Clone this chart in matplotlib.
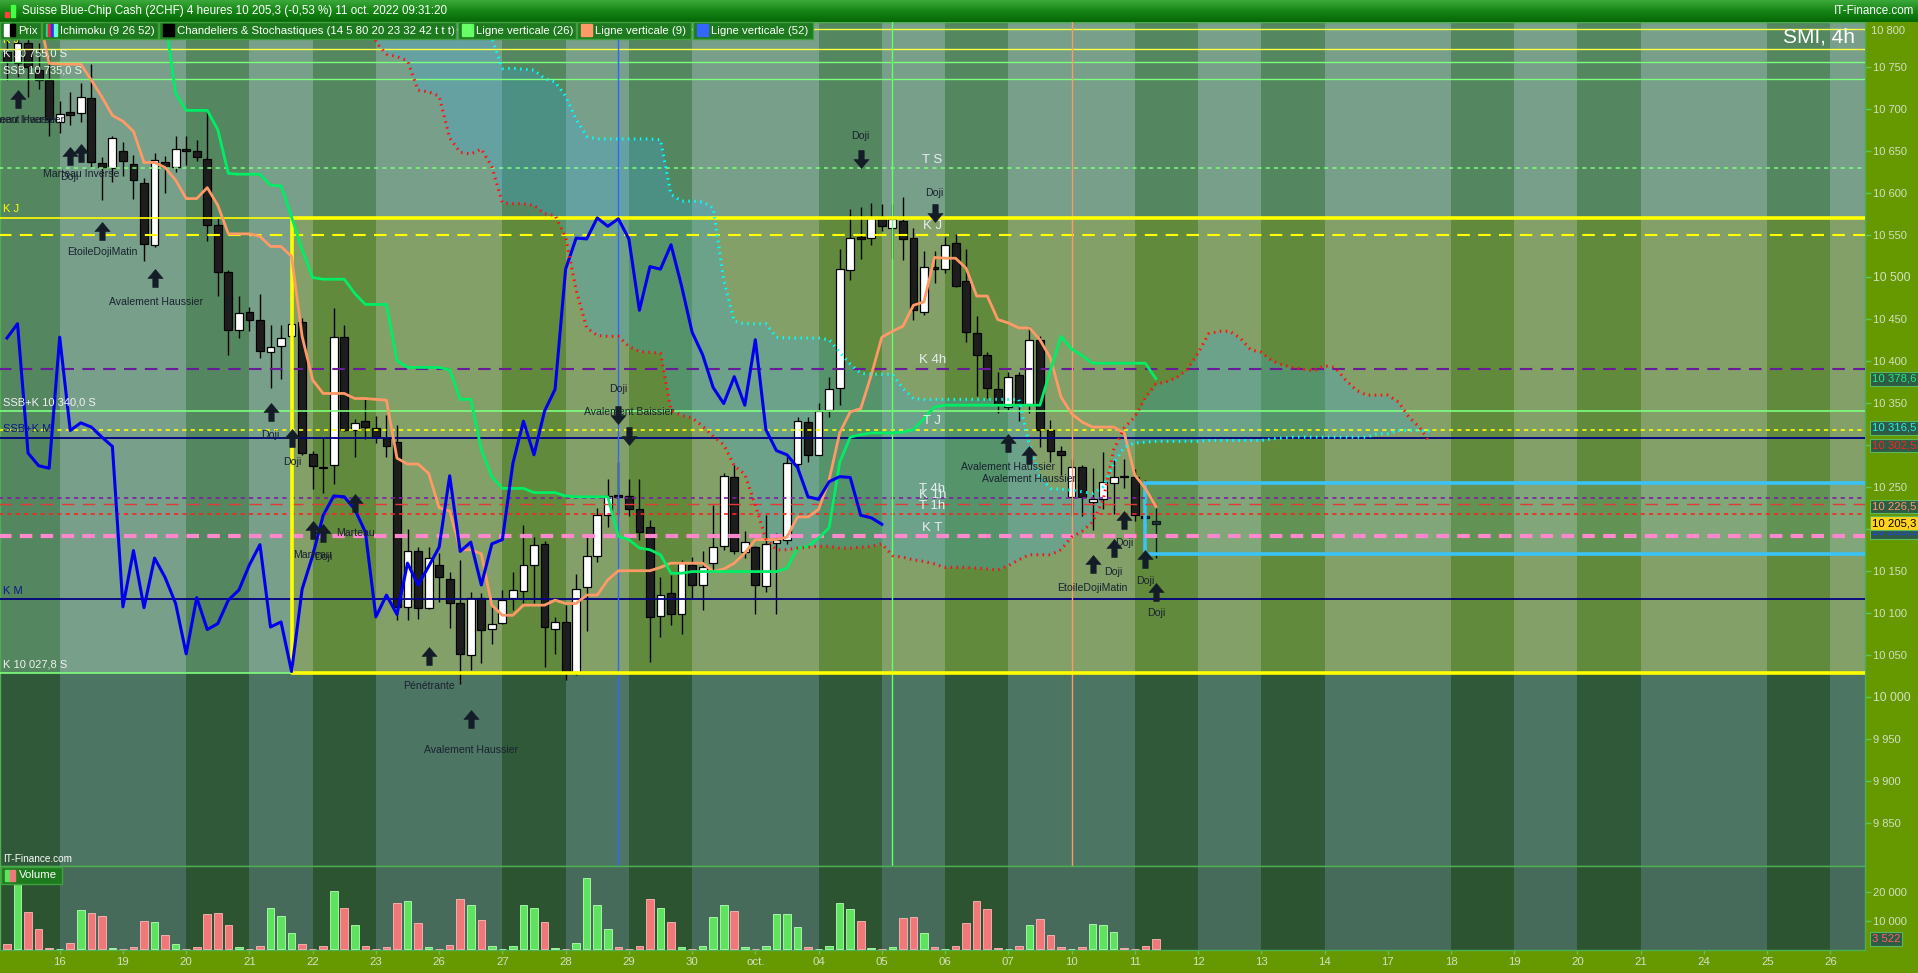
import numpy as np
import matplotlib
matplotlib.use("Agg")
import matplotlib.pyplot as plt
from matplotlib.patches import Rectangle
from matplotlib.path import Path
from matplotlib.colors import LinearSegmentedColormap

# ---------------- data (4h bars, index k = 0 .. 109) ----------------
opens = [10768, 10754, 10778, 10746, 10734, 10684, 10696, 10695, 10713, 10635,
         10629, 10650, 10634, 10611, 10538, 10637, 10631, 10652, 10650, 10640,
         10562, 10506, 10436, 10458, 10448, 10410, 10417, 10430, 10446, 10289,
         10274, 10276, 10428, 10317, 10328, 10320, 10308, 10303, 10107, 10173,
         10106, 10157, 10140, 10111, 10050, 10117, 10081, 10088, 10117, 10126,
         10157, 10182, 10081, 10089, 10030, 10131, 10168, 10216, 10240, 10239,
         10224, 10202, 10096, 10123, 10098, 10157, 10133, 10159, 10180, 10262,
         10172, 10178, 10132, 10183, 10187, 10277, 10327, 10288, 10341, 10367,
         10508, 10547, 10546, 10570, 10558, 10566, 10546, 10458, 10512, 10509,
         10540, 10495, 10433, 10407, 10366, 10345, 10383, 10348, 10425, 10317,
         10293, 10238, 10273, 10232, 10235, 10255, 10263, 10261, 10215, 10209]
highs = [10788, 10793, 10788, 10778, 10763, 10709, 10720, 10731, 10753, 10642,
         10667, 10660, 10645, 10618, 10647, 10644, 10667, 10667, 10663, 10696,
         10570, 10508, 10477, 10464, 10480, 10442, 10442, 10449, 10451, 10292,
         10308, 10463, 10442, 10331, 10355, 10334, 10335, 10324, 10200, 10178,
         10178, 10171, 10148, 10163, 10125, 10123, 10107, 10127, 10149, 10204,
         10190, 10185, 10095, 10109, 10146, 10190, 10225, 10259, 10279, 10259,
         10259, 10210, 10143, 10145, 10163, 10166, 10173, 10228, 10266, 10276,
         10197, 10180, 10216, 10195, 10285, 10333, 10333, 10350, 10381, 10533,
         10580, 10583, 10588, 10586, 10586, 10595, 10558, 10531, 10531, 10547,
         10551, 10533, 10453, 10410, 10387, 10387, 10386, 10441, 10429, 10329,
         10298, 10283, 10276, 10272, 10291, 10282, 10283, 10271, 10258, 10225]
lows = [10734, 10738, 10714, 10723, 10667, 10671, 10680, 10684, 10630, 10591,
        10613, 10620, 10593, 10519, 10535, 10600, 10625, 10633, 10638, 10542,
        10477, 10407, 10427, 10435, 10403, 10368, 10378, 10417, 10288, 10247,
        10243, 10253, 10316, 10285, 10307, 10302, 10285, 10091, 10091, 10093,
        10104, 10113, 10082, 10015, 10032, 10040, 10063, 10086, 10103, 10111,
        10111, 10035, 10051, 10020, 10026, 10078, 10160, 10202, 10218, 10215,
        10187, 10041, 10071, 10085, 10075, 10116, 10103, 10150, 10175, 10170,
        10165, 10098, 10125, 10098, 10182, 10268, 10280, 10288, 10333, 10347,
        10496, 10521, 10538, 10555, 10521, 10520, 10448, 10455, 10492, 10504,
        10488, 10422, 10358, 10356, 10338, 10341, 10328, 10338, 10297, 10280,
        10264, 10215, 10215, 10199, 10223, 10218, 10248, 10209, 10207, 10165]
closes = [10756, 10778, 10750, 10734, 10688, 10694, 10693, 10714, 10636, 10630,
          10665, 10638, 10615, 10539, 10639, 10631, 10652, 10650, 10642, 10562,
          10506, 10436, 10457, 10448, 10411, 10416, 10427, 10444, 10290, 10275,
          10272, 10428, 10317, 10326, 10321, 10309, 10298, 10107, 10174, 10106,
          10165, 10142, 10111, 10051, 10118, 10080, 10087, 10115, 10127, 10157,
          10181, 10083, 10089, 10030, 10128, 10168, 10216, 10239, 10238, 10223,
          10196, 10095, 10121, 10098, 10159, 10133, 10155, 10178, 10263, 10173,
          10184, 10133, 10182, 10187, 10278, 10328, 10288, 10340, 10366, 10509,
          10546, 10545, 10570, 10560, 10569, 10545, 10460, 10512, 10509, 10538,
          10489, 10434, 10407, 10368, 10349, 10381, 10347, 10425, 10318, 10293,
          10288, 10273, 10238, 10235, 10256, 10262, 10261, 10216, 10213, 10205.3]
volumes = [1600, 23000, 13000, 7100, 350, 0,
           1950, 13700, 12600, 11600, 350, 0,
           580, 9900, 9500, 5000, 1600, 0,
           600, 12300, 12600, 8500, 600, 0,
           900, 14400, 11600, 5700, 1600, 0,
           900, 20600, 14400, 8500, 900, 0,
           600, 16100, 17100, 9200, 600, 0,
           1250, 17800, 15400, 10200, 900, 0,
           900, 15700, 14400, 9500, 350, 0,
           2300, 25000, 15700, 7100, 600, 0,
           900, 17800, 14400, 9500, 600, 0,
           900, 11300, 15700, 13300, 600, 0,
           900, 12300, 12300, 7800, 600, 0,
           900, 16400, 14000, 9900, 350, 0,
           600, 10900, 11300, 5700, 600, 0,
           900, 9200, 17100, 14000, 350, 0,
           900, 8500, 10600, 5000, 600, 0,
           600, 8800, 8500, 6100, 350, 0,
           900, 3522]

# Ichimoku
tenkan = [10815, 10815, 10815, 10812, 10754, 10753, 10753, 10753, 10734, 10714,
          10692, 10685, 10673, 10636, 10636, 10630, 10615, 10593, 10593, 10606,
          10585, 10551, 10551, 10551, 10548, 10536, 10536, 10524, 10429, 10377,
          10361, 10361, 10361, 10355, 10355, 10354, 10353, 10284, 10277, 10277,
          10266, 10225, 10221, 10175, 10175, 10170, 10109, 10097, 10097, 10109,
          10109, 10109, 10115, 10111, 10111, 10121, 10121, 10139, 10150, 10150,
          10150, 10150, 10154, 10159, 10159, 10159, 10159, 10149, 10152, 10159,
          10171, 10187, 10187, 10187, 10190, 10214, 10214, 10223, 10258, 10314,
          10339, 10343, 10383, 10428, 10435, 10441, 10466, 10470, 10523, 10522,
          10522, 10510, 10477, 10477, 10449, 10445, 10439, 10439, 10425, 10403,
          10357, 10337, 10327, 10321, 10321, 10321, 10314, 10264, 10248, 10226.5]
kijun = ([10810] * 15
         + [10808, 10718, 10698, 10698, 10698, 10675, 10623, 10622, 10622, 10622,
            10609, 10608, 10571, 10532, 10499, 10497, 10497, 10497, 10480, 10467,
            10467, 10467, 10400, 10392, 10392, 10392, 10392, 10389, 10354, 10354,
            10294, 10262, 10248, 10248, 10248, 10243, 10243, 10243, 10239, 10238,
            10238, 10238, 10238, 10191, 10187, 10177, 10175, 10169, 10147, 10147]
         + [10149] * 9
         + [10153, 10177, 10179, 10189, 10201, 10279, 10309, 10312, 10314, 10314,
            10314, 10315, 10318, 10331, 10345]
         + [10347] * 10
         + [10389, 10429, 10414, 10406]
         + [10397] * 6
         + [10378.6])
cloud_start = 34
ssa = [10850, 10779, 10765, 10762, 10757, 10722, 10720, 10715, 10665, 10648,
       10646, 10652, 10631, 10588, 10587, 10587, 10585, 10575, 10573, 10547,
       10484, 10439, 10430, 10429, 10429, 10417, 10411, 10410, 10409, 10341,
       10335, 10332, 10322, 10310, 10300, 10275, 10265, 10228, 10188, 10175,
       10175, 10177, 10178, 10179, 10179, 10177, 10177, 10178, 10179, 10182,
       10168, 10166, 10163, 10161, 10158, 10154, 10154, 10154, 10153, 10152,
       10151, 10156, 10163, 10169, 10169, 10169, 10175, 10190, 10197, 10208,
       10234, 10294, 10320, 10333, 10356, 10372, 10375, 10380, 10390, 10409,
       10432, 10435, 10435, 10427, 10413, 10410, 10400, 10395, 10392, 10390,
       10388, 10394, 10392, 10377, 10365, 10359, 10359, 10359, 10351, 10333,
       10321, 10302.5]
ssb = ([10850] * 12
       + [10784, 10748, 10748, 10747, 10746, 10736, 10732, 10715,
          10687, 10667, 10664, 10664, 10664, 10664, 10664, 10664, 10663, 10598,
          10590, 10590, 10589, 10582, 10496, 10447, 10444, 10444, 10444, 10428,
          10427, 10427, 10427, 10427, 10425, 10410, 10396, 10385, 10384, 10384,
          10384, 10367, 10355]
       + [10354] * 10
       + [10300, 10262, 10248, 10247, 10246, 10244, 10242,
          10250, 10278, 10297, 10302, 10303]
       + [10304] * 5 + [10305] * 6 + [10307, 10308] + [10309] * 8
       + [10313, 10313, 10317, 10317, 10317, 10316.5])

# calendar
day_labels = ['15', '16', '19', '20', '21', '22', '23', '26', '27', '28', '29', '30',
              'oct.', '04', '05', '06', '07', '10', '11', '12', '13', '14', '17', '18',
              '19', '20', '21', '24', '25', '26']
day_names = ['Thu', 'Fri', 'Mon', 'Tue', 'Wed', 'Thu', 'Fri', 'Mon', 'Tue', 'Wed', 'Thu', 'Fri',
             'Mon', 'Tue', 'Wed', 'Thu', 'Fri', 'Mon', 'Tue', 'Wed', 'Thu', 'Fri', 'Mon', 'Tue',
             'Wed', 'Thu', 'Fri', 'Mon', 'Tue', 'Wed']

# support / resistance levels
level_values = [10795, 10771, 10755, 10735, 10629, 10570, 10550, 10390, 10340,
                10318, 10308, 10237, 10230, 10217, 10191, 10116, 10027.8]
level_left = ['', 'K J', 'K 10 755,0 S', 'SSB 10 735,0 S', '', 'K J', '', '',
              'SSB+K 10 340,0 S', '', 'SSB+K M', '', '', '', '', 'K M', 'K 10 027,8 S']
level_mid = ['', '', '', '', 'T S', '', 'K J', 'K 4h', '', 'T J', '', 'T 4h', 'K 1h',
             'T 1h', 'K T', '', '']
zone_low, zone_high, zone_bar = 10027.8, 10570, 27
box_low, box_high, box_bar = 10170, 10255, 108
vline_bars = [84, 101, 58]

# candlestick pattern marks
up_marks_k = [1, 6, 7, 9, 14, 25, 27, 29, 30, 33, 40, 44, 95, 97, 103, 105, 106, 108, 109]
up_marks_v = [10712, 10644, 10647, 10554, 10498, 10339, 10308, 10198, 10195, 10231,
              10048, 9973, 10302, 10288, 10158, 10177, 10210, 10164, 10125]
down_marks_k = [58, 59, 81, 88]
down_marks_v = [10335, 10310, 10640, 10576]
pattern_texts = [(1, 10687, 'Avalement Haussier'), (1, 10687, 'Marteau Inverse'),
                 (7, 10622, 'Marteau Inverse'), (5.9, 10619, 'Doji'),
                 (9, 10529, 'EtoileDojiMatin'), (14.1, 10470, 'Avalement Haussier'),
                 (25, 10311, 'Doji'), (27.1, 10279, 'Doji'),
                 (29, 10169, 'Marteau'), (30, 10166, 'Doji'), (33.1, 10195, 'Marteau'),
                 (40, 10013, 'Pénétrante'), (44, 9936, 'Avalement Haussier'),
                 (58, 10366, 'Doji'), (59, 10339, 'Avalement Baissier'),
                 (81, 10668, 'Doji'), (88, 10600, 'Doji'),
                 (95, 10274, 'Avalement Haussier'), (97, 10259, 'Avalement Haussier'),
                 (103, 10130, 'EtoileDojiMatin'), (105, 10149, 'Doji'), (106, 10183, 'Doji'),
                 (108, 10138, 'Doji'), (109, 10100, 'Doji')]

# ---------------- drawing ----------------
plt.rcParams['font.family'] = ['Liberation Sans', 'DejaVu Sans']
plt.rcParams['lines.scale_dashes'] = False

W, H = 1918, 973
fig = plt.figure(figsize=(W / 100, H / 100), dpi=100, facecolor='#669900')


def fx(x):
    return x / W


def fy(y):
    return 1 - y / H


def fmt(v, dec=1):
    s = f'{v:,.{dec}f}'.replace(',', ' ').replace('.', ',')
    return s


XL = (-0.664, 176.28)
YL = (9798.5, 10803.2)
VL = (-345, 29310)
GRID = '#4caf50'
TICKC = '#d3e0c4'

ax = fig.add_axes([0, fy(866), fx(1865), fy(22) - fy(866)])
axv = fig.add_axes([0, fy(950), fx(1865), fy(866) - fy(950)], sharex=ax)
ax.set_xlim(*XL)
ax.set_ylim(*YL)
axv.set_ylim(*VL)

# day bands
band = {'upper': ('#779f89', '#548660'), 'olive': ('#82a068', '#618a3d'),
        'lower': ('#4d7563', '#30593a'), 'vol': ('#476b5b', '#2c5431')}
for i, name in enumerate(day_names):
    s = -1 + 6 * i
    e = s + 6
    j = 1 if name in ('Tue', 'Thu') else 0
    ax.add_patch(Rectangle((s, zone_low), 6, YL[1] - zone_low + 20, color=band['upper'][j],
                           lw=0, zorder=0, antialiased=False))
    ax.add_patch(Rectangle((s, YL[0] - 20), 6, zone_low - YL[0] + 20, color=band['lower'][j],
                           lw=0, zorder=0, antialiased=False))
    x0 = max(s, zone_bar)
    if e > x0:
        ax.add_patch(Rectangle((x0, zone_low), e - x0, zone_high - zone_low,
                               color=band['olive'][j], lw=0, zorder=0.1, antialiased=False))
    axv.add_patch(Rectangle((s, VL[0] - 50), 6, VL[1] - VL[0] + 100, color=band['vol'][j],
                            lw=0, zorder=0, antialiased=False))

# cloud
kc = np.arange(cloud_start, cloud_start + len(ssa))
kc2 = np.arange(cloud_start, cloud_start + len(ssb))
n = min(len(kc), len(kc2))
ax.fill_between(kc[:n], ssa[:n], ssb[:n], color='#3aa8d8', alpha=0.3, lw=0, zorder=1)

# highlighted box
ax.add_patch(Rectangle((box_bar, box_low), XL[1] - box_bar + 5, box_high - box_low,
                       facecolor=(0.45, 0.85, 1.0, 0.12), edgecolor='#3cc3f5', lw=2.6, zorder=4))

# candles
k = np.arange(len(opens))
o = np.array(opens, float)
c = np.array(closes, float)
hi = np.array(highs, float)
lo = np.array(lows, float)
up = c >= o
body_lo = np.minimum(o, c)
body_h = np.maximum(np.abs(c - o), 1.3)
ax.vlines(k, lo, hi, color='black', lw=1, zorder=3)
ax.bar(k[up], body_h[up], bottom=body_lo[up], width=0.74, color='white',
       edgecolor='black', lw=0.9, zorder=3.2)
ax.bar(k[~up], body_h[~up], bottom=body_lo[~up], width=0.74, color='#1d1d1d',
       edgecolor='black', lw=0.9, zorder=3.2)

# volume
vol = np.array(volumes, float)
kv = np.arange(len(vol))
upv = up[:len(vol)]
axv.bar(kv, vol, width=0.72, color=np.where(upv, '#5fe35f', '#f07878'),
        edgecolor=np.where(upv, '#b4ffb4', '#ffb8b8'), lw=0.6, zorder=3)

# levels
level_styles = [('#ffff44', '-', 1.0), ('#ffff44', '-', 1.0), ('#7dff7d', '-', 1.0),
                ('#7dff7d', '-', 1.0), ('#7dff7d', (0, (3, 3)), 1.1), ('#ffff00', '-', 1.2),
                ('#ffff00', (0, (9, 6)), 1.5), ('#6a1b9a', (0, (9, 6)), 1.5),
                ('#7dff7d', '-', 1.2), ('#ffff00', (0, (3, 3)), 1.2), ('#000080', '-', 1.3),
                ('#7b1fa2', (0, (3, 3)), 1.2), ('#e53935', (0, (9, 6)), 1.0),
                ('#ff2222', (0, (3, 3)), 1.2), ('#ff88cc', (0, (9, 6)), 3.0),
                ('#000080', '-', 1.3), ('#7dff7d', '-', 1.2)]
left_colors = {'K J': '#ffff00', 'SSB+K M': '#0a1a8a', 'K M': '#0a1a8a'}
for v, (col, ls, lw), ltxt, mtxt in zip(level_values, level_styles, level_left, level_mid):
    ax.plot([XL[0] - 1, XL[1] + 1], [v, v], color=col, ls=ls, lw=lw, zorder=4)
    if ltxt:
        ax.annotate(ltxt, xy=(0.0016, v), xycoords=('axes fraction', 'data'), xytext=(0, 6.3),
                    textcoords='offset points', ha='left', va='center', fontsize=8,
                    color=left_colors.get(ltxt, '#f2f2f2'), zorder=6)
    if mtxt:
        ax.annotate(mtxt, xy=(87.8, v), xytext=(0, 6.3), textcoords='offset points',
                    ha='center', va='center', fontsize=9.5, color='#e8eef0', zorder=6)

# zone rectangle outline
ax.plot([XL[1] + 1, zone_bar, zone_bar, XL[1] + 1], [zone_high, zone_high, zone_low, zone_low],
        color='#ffff00', lw=2.6, zorder=4.1)

# vertical lines
for b, col in zip(vline_bars, ['#66ff66', '#ff9966', '#3366ff']):
    ax.axvline(b, color=col, lw=1, zorder=4)

# ichimoku lines
ax.plot(np.arange(len(tenkan)), tenkan, color='#ff9966', lw=2, zorder=5)
ax.plot(np.arange(len(kijun)), kijun, color='#00ee66', lw=2, zorder=5)
ax.plot(np.arange(len(closes) - 26), closes[26:], color='#0000ee', lw=2.2, zorder=5)
ax.plot(kc, ssa, color='#ff1010', lw=2.2, ls=(0, (1.1, 3.2)), zorder=5)
ax.plot(kc2, ssb, color='#00ffff', lw=2.2, ls=(0, (1.1, 3.2)), zorder=5)

# pattern arrows / labels
av = [(-0.42, 0.0), (0.0, 0.5), (0.42, 0.0), (0.15, 0.0), (0.15, -0.5), (-0.15, -0.5),
      (-0.15, 0.0), (-0.42, 0.0)]
codes = [Path.MOVETO] + [Path.LINETO] * 6 + [Path.CLOSEPOLY]
UP = Path(av, codes)
DOWN = Path([(x, -y) for x, y in av], codes)
ax.plot(up_marks_k, up_marks_v, ls='none', marker=UP, ms=13, color='#141c28', mew=0.4, zorder=6)
ax.plot(down_marks_k, down_marks_v, ls='none', marker=DOWN, ms=13, color='#141c28', mew=0.4,
        zorder=6)
for xk, yv, t in pattern_texts:
    ax.text(xk, yv, t, ha='center', va='center', fontsize=7.6, color='#1a2230', zorder=6)

# axes styling
for a in (ax, axv):
    for sp in a.spines.values():
        sp.set_color(GRID)
        sp.set_linewidth(1)
    a.yaxis.tick_right()
ax.tick_params(axis='x', bottom=False, labelbottom=False)
yt = list(range(9850, 10751, 50))
ax.set_yticks(yt)
ax.set_yticklabels([fmt(v, 0) for v in yt])
ax.tick_params(axis='y', right=True, left=False, direction='out', length=4, width=1,
               color='#5fc35f', labelcolor=TICKC, labelsize=8, pad=2)
for lab in ax.get_yticklabels():
    if lab.get_text() in ('10 500', '10 000'):
        lab.set_fontsize(8.8)
ax.annotate('10 800', xy=(1, 10800), xycoords=('axes fraction', 'data'), xytext=(4.3, -4.5),
            textcoords='offset points', ha='left', va='center', fontsize=8, color=TICKC,
            annotation_clip=False)

axv.set_yticks([10000, 20000])
axv.set_yticklabels([fmt(10000, 0), fmt(20000, 0)])
axv.tick_params(axis='y', right=True, left=False, direction='out', length=4, width=1,
                color='#5fc35f', labelcolor=TICKC, labelsize=8, pad=2)
starts = [-1 + 6 * i for i in range(1, len(day_labels))]
axv.set_xticks(starts)
axv.set_xticklabels(day_labels[1:])
axv.tick_params(axis='x', direction='out', length=3, width=1, color='#5fc35f',
                labelcolor=TICKC, labelsize=8.2, pad=2)


# value boxes on the right axis
def value_box(axis, text, value, fg, bg, dy=0.0, z=7):
    axis.annotate(text, xy=(1, value), xycoords=('axes fraction', 'data'), xytext=(4.8, dy),
                  textcoords='offset points', ha='left', va='center', fontsize=8.2, color=fg,
                  annotation_clip=False, zorder=z,
                  bbox=dict(boxstyle='square,pad=0.16', fc=bg, ec='#5cb85c', lw=0.8))


value_box(ax, fmt(kijun[-1]), kijun[-1], '#22ee77', '#2e5b45')
value_box(ax, fmt(ssb[-1]), ssb[-1], '#22eeee', '#2e5b45', dy=2.2)
value_box(ax, fmt(ssa[-1]), ssa[-1], '#ff2020', '#2e5b45', dy=-2.0)
value_box(ax, fmt(tenkan[-1]), tenkan[-1], '#ff9966', '#2e5b45')
value_box(ax, fmt(closes[-1]), closes[-1], '#2040ff', '#2e5b45', dy=-5.5, z=7)
value_box(ax, fmt(closes[-1]), closes[-1], 'black', '#ffd21e', dy=0.8, z=8)
value_box(axv, fmt(volumes[-1], 0), volumes[-1], '#ff6060', '#2e5b45')

# title bar
tb = fig.add_axes([0, fy(22), 1, 22 / H])
cm = LinearSegmentedColormap.from_list('tb', ['#3aa83a', '#168616', '#066806'])
tb.imshow(np.linspace(0, 1, 40).reshape(-1, 1), aspect='auto', cmap=cm, extent=[0, 1, 0, 1])
tb.set_axis_off()
fig.add_artist(Rectangle((fx(5), fy(17)), fx(4), 5 / H, color='#ff4040', transform=fig.transFigure))
fig.add_artist(Rectangle((fx(11), fy(17)), fx(4), 12 / H, color='#44ff44', transform=fig.transFigure))
fig.text(fx(22), fy(11), 'Suisse Blue-Chip Cash (2CHF) 4 heures 10 205,3 (-0,53 %) 11 oct. 2022 09:31:20',
         color='white', fontsize=8.4, va='center', ha='left')
fig.text(fx(1914), fy(11), 'IT-Finance.com', color='white', fontsize=8.4, va='center', ha='right')

# legend row
legend_items = [('Prix', 0, 41), ('Ichimoku (9 26 52)', 41.5, 158),
                ('Chandeliers & Stochastiques (14 5 80 20 23 32 42 t t t)', 159, 456),
                ('Ligne verticale (26)', 458, 576), ('Ligne verticale (9)', 577, 691),
                ('Ligne verticale (52)', 693, 813)]
icons = [['#ffffff', '#000000'], ['#33cc99', '#ff2222', '#2233ff', '#66ffcc'], ['#000000'],
         ['#66ff66'], ['#ff9966'], ['#3366ff']]
for (txt, x0, x1), ic in zip(legend_items, icons):
    fig.add_artist(Rectangle((fx(x0), fy(39)), fx(x1) - fx(x0), 17 / H, facecolor='#1e7a1e',
                             edgecolor='#40a040', lw=1, transform=fig.transFigure, zorder=10))
    wseg = 11 / len(ic)
    for m, col in enumerate(ic):
        fig.add_artist(Rectangle((fx(x0 + 4 + m * wseg), fy(36)), fx(wseg), 12 / H, color=col,
                                 transform=fig.transFigure, zorder=11))
    fig.text(fx(x0 + 18), fy(30.5), txt, color='white', fontsize=8.2, va='center', ha='left',
             zorder=12)

fig.text(fx(1855), fy(37), 'SMI, 4h', color='white', fontsize=15, ha='right', va='center', zorder=12)
fig.text(fx(3), fy(859), 'IT-Finance.com', color='white', fontsize=7.2, ha='left', va='center',
         zorder=12)

# volume legend
fig.add_artist(Rectangle((fx(1), fy(884)), fx(61), 17 / H, facecolor='#1e7a1e', edgecolor='#40a040',
                         lw=1, transform=fig.transFigure, zorder=10))
fig.add_artist(Rectangle((fx(5), fy(881)), fx(5), 11 / H, color='#5fe35f',
                         transform=fig.transFigure, zorder=11))
fig.add_artist(Rectangle((fx(10), fy(881)), fx(5), 11 / H, color='#f07878',
                         transform=fig.transFigure, zorder=11))
fig.text(fx(19), fy(875.5), 'Volume', color='white', fontsize=8.2, va='center', ha='left', zorder=12)

fig.savefig('out.png', dpi=100, facecolor=fig.get_facecolor())
